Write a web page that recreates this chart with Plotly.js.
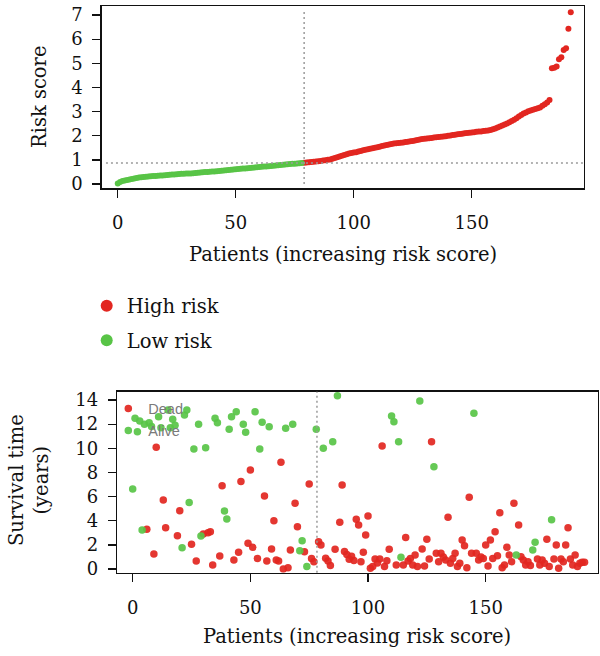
<!DOCTYPE html>
<html>
<head>
<meta charset="utf-8">
<script src="https://cdn.plot.ly/plotly-3.0.1.min.js"></script>
<style>html,body{margin:0;padding:0;background:#fff;}#chart{width:600px;height:656px;}</style>
</head>
<body>
<div id="chart"></div>
<script>
// Sorted risk scores (patients 0..192)
const riskScore = [
  0.02,0.08,0.12,0.15,0.17,0.19,0.21,0.23,0.25,0.27,
  0.28,0.29,0.30,0.31,0.32,0.33,0.33,0.34,0.35,0.35,
  0.36,0.37,0.38,0.39,0.39,0.40,0.41,0.42,0.42,0.43,
  0.44,0.44,0.45,0.46,0.47,0.48,0.49,0.50,0.50,0.51,
  0.52,0.52,0.53,0.54,0.55,0.56,0.57,0.58,0.59,0.60,
  0.61,0.62,0.63,0.64,0.64,0.65,0.66,0.67,0.68,0.69,
  0.70,0.71,0.72,0.73,0.74,0.75,0.76,0.77,0.78,0.79,
  0.80,0.81,0.82,0.83,0.84,0.84,0.85,0.86,0.87,
  0.88,0.89,0.90,0.91,0.92,0.93,0.94,0.95,0.97,0.98,
  1.00,1.02,1.05,1.08,1.11,1.14,1.17,1.20,1.23,1.26,
  1.28,1.30,1.32,1.35,1.37,1.40,1.42,1.44,1.46,1.48,
  1.50,1.52,1.54,1.57,1.60,1.62,1.64,1.66,1.68,1.69,
  1.70,1.71,1.72,1.74,1.75,1.77,1.78,1.80,1.82,1.84,
  1.86,1.87,1.89,1.90,1.91,1.93,1.94,1.95,1.96,1.97,
  1.98,2.00,2.01,2.03,2.04,2.06,2.07,2.08,2.10,2.11,
  2.12,2.13,2.14,2.16,2.17,2.18,2.20,2.21,2.22,2.24,
  2.27,2.30,2.34,2.38,2.42,2.46,2.51,2.56,2.61,2.66,
  2.72,2.80,2.86,2.92,2.96,3.01,3.05,3.08,3.11,3.14,
  3.17,3.24,3.30,3.38,3.48,4.79,4.82,4.87,5.17,5.25,
  5.55,5.62,6.43,7.12
];
const lowRiskCount = 79;       // first 79 patients are low risk
const riskCutoff = 0.87;       // horizontal cutoff line
const cutoffTop = 79;          // vertical cutoff line, top panel
const cutoffBottom = 78.3;     // vertical cutoff line, bottom panel

// Survival time (years) per patient, same order
const survTime = [
  6.63,12.49,11.38,12.26,3.23,11.99,3.29,12.12,11.8,1.24,
  10.08,12.62,11.7,5.72,3.42,13.17,11.7,12.4,11.9,2.76,
  4.83,1.77,12.76,13.17,5.5,2.05,9.94,0.66,11.99,2.73,
  2.9,10.05,3.0,3.09,0.33,12.48,12.12,1.08,6.9,4.8,
  4.14,11.57,12.62,0.75,13.03,1.38,7.24,11.99,11.32,2.13,
  8.2,1.8,13.03,0.88,9.94,12.15,6.05,0.66,11.79,1.66,
  4.0,0.75,0.66,8.84,0.0,11.66,0.11,1.57,11.99,5.44,
  3.5,1.52,2.35,1.43,0.2,7.04,0.88,0.61,11.57,2.26,
  1.99,10.0,0.9,0.66,0.28,10.55,1.63,14.36,3.87,6.96,
  1.45,1.2,0.8,1.05,0.7,4.12,3.65,0.61,1.38,2.82,
  4.39,0.06,0.2,0.83,0.5,0.83,10.19,0.2,0.69,1.63,
  12.68,12.2,0.33,10.55,0.97,0.33,2.6,0.66,0.88,0.33,
  1.16,0.2,13.92,1.66,0.25,2.46,0.83,10.55,8.48,1.3,
  0.6,1.3,1.0,0.75,4.28,0.47,0.88,1.3,0.2,0.47,
  2.4,1.93,0.11,5.94,1.3,12.9,1.3,0.75,1.0,0.88,
  1.99,0.25,2.4,0.88,3.09,1.1,4.67,0.11,0.33,1.8,
  1.16,0.61,5.44,1.16,3.65,1.02,0.75,0.33,0.61,0.28,
  1.57,2.21,0.83,0.33,0.75,0.47,2.46,0.2,4.09,0.83,
  1.99,0.06,0.83,0.61,1.99,3.42,0.83,0.33,1.16,0.2,
  0.47,0.55,0.55
];
// 1 = Dead, 0 = Alive
const dead = [
  0,0,0,0,0,0,1,0,0,1, 1,0,0,1,1,0,0,0,0,1,
  1,0,0,0,0,1,0,1,0,0, 1,0,1,1,1,0,0,1,1,0,
  0,0,0,1,0,1,1,0,0,1, 1,1,0,1,0,0,1,1,0,1,
  1,1,1,1,1,0,1,1,0,1, 1,0,0,1,0,1,1,1,0,1,
  1,0,1,1,1,0,1,0,1,1, 1,1,1,1,1,1,1,1,1,1,
  1,1,1,1,1,1,1,1,1,1, 0,0,1,0,0,1,1,1,1,1,
  1,1,0,1,1,1,1,1,0,1, 1,1,1,1,1,1,1,1,1,1,
  1,1,1,1,1,0,1,1,1,1, 1,1,1,1,1,1,1,1,1,1,
  1,1,1,0,1,1,1,1,1,1, 0,0,1,1,1,1,1,1,0,1,
  1,1,1,1,1,1,1,1,1,1, 1,1,1
];
const xTicks = [0, 50, 100, 150];
const riskTicks = [0, 1, 2, 3, 4, 5, 6, 7];
const survTicks = [0, 2, 4, 6, 8, 10, 12, 14];
const legendTop = ['High risk', 'Low risk'];
const legendBottom = ['Dead', 'Alive'];

const RED = 'rgb(226,38,32)';
const GREEN = 'rgb(88,196,70)';
const SERIF = 'DejaVu Serif, serif';

const idx = riskScore.map((_, i) => i);
const hiX = idx.filter(i => i >= lowRiskCount), loX = idx.filter(i => i < lowRiskCount);
const dX = idx.filter(i => dead[i] === 1), aX = idx.filter(i => dead[i] === 0);

const traces = [
  {x: hiX, y: hiX.map(i => riskScore[i]), type: 'scatter', mode: 'markers', name: legendTop[0],
   marker: {color: RED, size: 6}, xaxis: 'x', yaxis: 'y', legend: 'legend', legendgroup: 'a'},
  {x: loX, y: loX.map(i => riskScore[i]), type: 'scatter', mode: 'markers', name: legendTop[1],
   marker: {color: GREEN, size: 6}, xaxis: 'x', yaxis: 'y', legend: 'legend', legendgroup: 'b'},
  {x: dX, y: dX.map(i => survTime[i]), type: 'scatter', mode: 'markers', name: legendBottom[0],
   marker: {color: RED, size: 7.5, opacity: 0.92}, xaxis: 'x2', yaxis: 'y2', legend: 'legend2', legendgroup: 'c'},
  {x: aX, y: aX.map(i => survTime[i]), type: 'scatter', mode: 'markers', name: legendBottom[1],
   marker: {color: GREEN, size: 7.5, opacity: 0.92}, xaxis: 'x2', yaxis: 'y2', legend: 'legend2', legendgroup: 'd'}
];

const axBase = {
  showline: true, mirror: true, linecolor: '#111', linewidth: 1.3,
  ticks: 'outside', ticklen: 8, tickwidth: 1.3, tickcolor: '#111',
  showgrid: false, zeroline: false, tickmode: 'array',
  tickfont: {family: SERIF, size: 18, color: '#111'}
};

const layout = {
  width: 600, height: 656,
  margin: {l: 0, r: 0, t: 0, b: 0},
  paper_bgcolor: '#fff', plot_bgcolor: '#fff',
  showlegend: true,
  xaxis: Object.assign({}, axBase, {domain: [0.1695, 0.9733], range: [-6.8, 197.6], anchor: 'y',
    tickvals: xTicks, ticklabelstandoff: 10}),
  yaxis: Object.assign({}, axBase, {domain: [0.71296, 0.99085], range: [-0.178, 7.374], anchor: 'x',
    tickvals: riskTicks, ticklabelstandoff: 6}),
  xaxis2: Object.assign({}, axBase, {domain: [0.195, 0.99617], range: [-6.67, 197.6], anchor: 'y2',
    tickvals: xTicks, ticklabelstandoff: 10}),
  yaxis2: Object.assign({}, axBase, {domain: [0.12698, 0.4029], range: [-0.307, 14.69], anchor: 'x2',
    tickvals: survTicks, ticklabelstandoff: 6}),
  legend: {x: 0.1445, y: 0.563, xanchor: 'left', yanchor: 'top', bgcolor: 'rgba(0,0,0,0)',
    font: {family: SERIF, size: 19.5, color: '#111'}, itemsizing: 'constant', tracegroupgap: 6},
  legend2: {x: 0.1805, y: 0.4015, xanchor: 'left', yanchor: 'top', bgcolor: 'rgba(0,0,0,0)',
    font: {family: 'Liberation Sans, Arial, sans-serif', size: 14.5, color: '#7a7a7a'},
    itemsizing: 'trace', tracegroupgap: 0},
  shapes: [
    {type: 'line', xref: 'x', yref: 'y', x0: cutoffTop, x1: cutoffTop, y0: 0, y1: 7.25,
     line: {color: '#9a9a9a', width: 1.5, dash: '2px,3px'}},
    {type: 'line', xref: 'x', yref: 'y', x0: -5, x1: 197.6, y0: riskCutoff, y1: riskCutoff,
     line: {color: '#9a9a9a', width: 1.5, dash: '2px,3px'}},
    {type: 'line', xref: 'x2', yref: 'y2 domain', x0: cutoffBottom, x1: cutoffBottom, y0: 0, y1: 1,
     line: {color: '#9a9a9a', width: 1.5, dash: '2px,3px'}}
  ],
  annotations: [
    {text: 'Risk score', xref: 'paper', yref: 'paper', x: 40/600, y: 1 - 97/656, textangle: -90,
     showarrow: false, xanchor: 'center', yanchor: 'middle', font: {family: SERIF, size: 19.5, color: '#111'}},
    {text: 'Patients (increasing risk score)', xref: 'paper', yref: 'paper', x: 342.9/600, y: 1 - 255/656,
     showarrow: false, xanchor: 'center', yanchor: 'middle', font: {family: SERIF, size: 19.5, color: '#111'}},
    {text: 'Survival time<br>(years)', xref: 'paper', yref: 'paper', x: 29/600, y: 1 - 480/656, textangle: -90,
     showarrow: false, xanchor: 'center', yanchor: 'middle', font: {family: SERIF, size: 19.5, color: '#111'}},
    {text: 'Patients (increasing risk score)', xref: 'paper', yref: 'paper', x: 357.4/600, y: 1 - 636.7/656,
     showarrow: false, xanchor: 'center', yanchor: 'middle', font: {family: SERIF, size: 19.5, color: '#111'}}
  ]
};

Plotly.newPlot('chart', traces, layout, {staticPlot: true, displayModeBar: false});
</script>
</body>
</html>
